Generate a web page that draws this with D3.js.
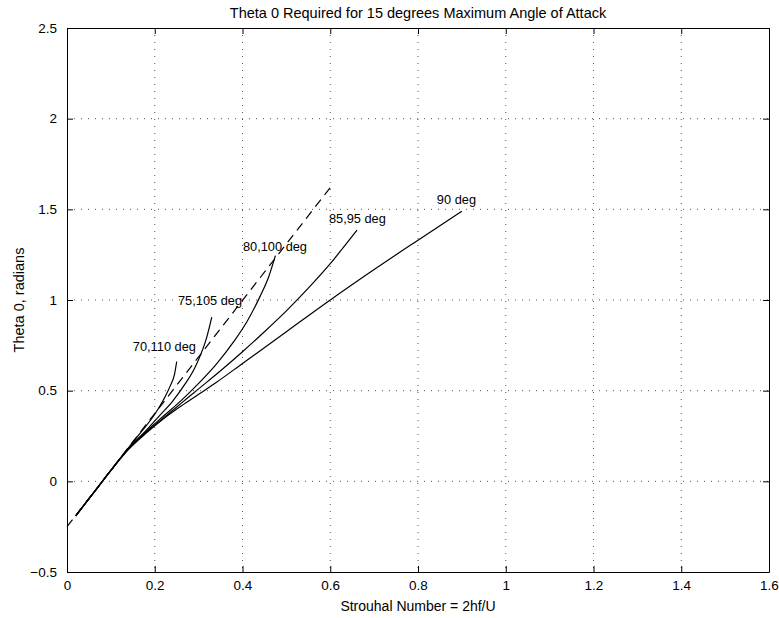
<!DOCTYPE html>
<html>
<head>
<meta charset="utf-8">
<script src="https://cdn.jsdelivr.net/npm/d3@7"></script>
<style>
  body { margin: 0; background: #fff; }
  text { font-family: "Liberation Sans", Arial, sans-serif; fill: #000; }
</style>
</head>
<body>
<script>
// Theta 0 vs Strouhal number, one curve per pair of angles

var xTicks = [0, 0.2, 0.4, 0.6, 0.8, 1, 1.2, 1.4, 1.6];
var yTicks = [-0.5, 0, 0.5, 1, 1.5, 2, 2.5];

// dashed reference line
var dashX = [0, 0.2, 0.4, 0.6];
var dashY = [-0.25, 0.374, 0.998, 1.62];

// solid curves (x values, theta values)
var c70x = [0.02, 0.06, 0.1, 0.14, 0.17, 0.2, 0.22, 0.235, 0.245, 0.25];
var c70y = [-0.19, -0.065, 0.06, 0.185, 0.275, 0.37, 0.45, 0.525, 0.59, 0.66];

var c75x = [0.02, 0.06, 0.1, 0.14, 0.18, 0.21, 0.24, 0.27, 0.29, 0.305, 0.318, 0.33];
var c75y = [-0.19, -0.065, 0.06, 0.18, 0.28, 0.36, 0.44, 0.54, 0.62, 0.7, 0.79, 0.905];

var c80x = [0.02, 0.06, 0.1, 0.14, 0.18, 0.22, 0.26, 0.3, 0.34, 0.38, 0.41, 0.44, 0.46, 0.475];
var c80y = [-0.19, -0.065, 0.06, 0.18, 0.275, 0.36, 0.445, 0.54, 0.645, 0.77, 0.88, 1.02, 1.13, 1.245];

var c85x = [0.02, 0.06, 0.1, 0.14, 0.18, 0.22, 0.26, 0.3, 0.35, 0.4, 0.45, 0.5, 0.55, 0.6, 0.63, 0.661];
var c85y = [-0.19, -0.065, 0.06, 0.18, 0.27, 0.35, 0.43, 0.51, 0.61, 0.715, 0.825, 0.94, 1.065, 1.2, 1.29, 1.385];

var c90x = [0.02, 0.06, 0.1, 0.14, 0.18, 0.22, 0.26, 0.3, 0.34, 0.4, 0.5, 0.6, 0.7, 0.8, 0.9];
var c90y = [-0.19, -0.065, 0.06, 0.175, 0.265, 0.345, 0.415, 0.48, 0.545, 0.65, 0.825, 1.0, 1.168, 1.33, 1.49];

// curve labels (text, x, y in data units)
var labelText = ["70,110 deg", "75,105 deg", "80,100 deg", "85,95 deg", "90 deg"];
var labelX = [0.150, 0.253, 0.401, 0.597, 0.843];
var labelY = [0.719, 0.972, 1.269, 1.424, 1.53];

window.onload = function(){
    var width = 779, height = 618;
    var margin = {left: 67, top: 28, right: 10, bottom: 46};
    var w = width - margin.left - margin.right; // 702
    var h = height - margin.top - margin.bottom; // 544

    var svg = d3.select("body").append("svg")
        .attr("width", width)
        .attr("height", height);

    var x = d3.scaleLinear().domain([0, 1.6]).range([0, w]);
    var y = d3.scaleLinear().domain([-0.5, 2.5]).range([h, 0]);

    var g = svg.append("g")
        .attr("transform", "translate(" + margin.left + "," + margin.top + ")");

    // dotted grid
    g.append("g").selectAll("line.vx")
        .data(xTicks.slice(1, -1))
        .enter().append("line")
        .attr("x1", function(d){ return x(d); })
        .attr("x2", function(d){ return x(d); })
        .attr("y1", 0).attr("y2", h)
        .style("stroke", "#555").style("stroke-width", 1)
        .style("stroke-dasharray", "1,6");
    g.append("g").selectAll("line.hy")
        .data(yTicks.slice(1, -1))
        .enter().append("line")
        .attr("x1", 0).attr("x2", w)
        .attr("y1", function(d){ return y(d); })
        .attr("y2", function(d){ return y(d); })
        .style("stroke", "#555").style("stroke-width", 1)
        .style("stroke-dasharray", "1,6");

    // axes with inward ticks, on all four sides
    var fmt = function(d){ return d < 0 ? "\u2212" + Math.abs(d) : String(d); };
    var xb = g.append("g").attr("transform", "translate(0," + h + ")")
        .call(d3.axisBottom(x).tickValues(xTicks).tickFormat(fmt).tickSizeInner(-6).tickSizeOuter(0).tickPadding(8));
    var xt = g.append("g")
        .call(d3.axisTop(x).tickValues(xTicks).tickFormat("").tickSizeInner(-6).tickSizeOuter(0));
    var yl = g.append("g")
        .call(d3.axisLeft(y).tickValues(yTicks).tickFormat(fmt).tickSizeInner(-6).tickSizeOuter(0).tickPadding(10));
    var yr = g.append("g").attr("transform", "translate(" + w + ",0)")
        .call(d3.axisRight(y).tickValues(yTicks).tickFormat("").tickSizeInner(-6).tickSizeOuter(0));
    [xb, xt, yl, yr].forEach(function(a){
        a.selectAll("path").style("stroke", "#000");
        a.selectAll("line").style("stroke", "#000");
        a.selectAll("text").style("font-size", "13.5px").style("font-family", "Liberation Sans, Arial, sans-serif").style("fill", "#000");
    });

    var line = d3.line()
        .x(function(d){ return x(d[0]); })
        .y(function(d){ return y(d[1]); })
        .curve(d3.curveMonotoneX);

    var zip = function(a, b){ return a.map(function(v, i){ return [v, b[i]]; }); };

    g.append("path")
        .datum(zip(dashX, dashY))
        .attr("d", line)
        .style("fill", "none").style("stroke", "#000").style("stroke-width", 1.2)
        .style("stroke-dasharray", "9,6");

    var curves = [[c70x, c70y], [c75x, c75y], [c80x, c80y], [c85x, c85y], [c90x, c90y]];
    g.selectAll("path.curve")
        .data(curves)
        .enter().append("path")
        .attr("class", "curve")
        .attr("d", function(c){ return line(zip(c[0], c[1])); })
        .style("fill", "none").style("stroke", "#000").style("stroke-width", 1.2);

    // curve labels
    g.selectAll("text.lab")
        .data(labelText)
        .enter().append("text")
        .attr("class", "lab")
        .attr("x", function(d, i){ return x(labelX[i]); })
        .attr("y", function(d, i){ return y(labelY[i]); })
        .style("font-size", "12.8px")
        .text(function(d){ return d; });

    // titles
    svg.append("text")
        .attr("x", margin.left + w / 2).attr("y", 18)
        .attr("text-anchor", "middle")
        .style("font-size", "14.5px")
        .text("Theta 0 Required for 15 degrees Maximum Angle of Attack");

    svg.append("text")
        .attr("x", margin.left + w / 2).attr("y", 611)
        .attr("text-anchor", "middle")
        .style("font-size", "14px")
        .text("Strouhal Number = 2hf/U");

    svg.append("text")
        .attr("transform", "translate(24," + (margin.top + h / 2) + ") rotate(-90)")
        .attr("text-anchor", "middle")
        .style("font-size", "14.5px")
        .text("Theta 0, radians");
};
</script>
</body>
</html>
